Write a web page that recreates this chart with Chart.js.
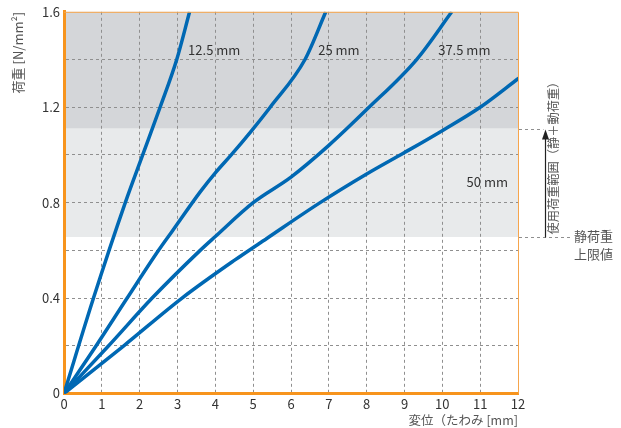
<!DOCTYPE html>
<html>
<head>
<meta charset="utf-8">
<script src="https://cdn.jsdelivr.net/npm/chart.js@4/dist/chart.umd.min.js"></script>
<style>
  html, body { margin: 0; padding: 0; background: #ffffff; }
  canvas { display: block; }
</style>
</head>
<body>
<canvas id="c" width="621" height="428"></canvas>
<script>
// ---- data ----
const seriesNames = ['12.5 mm', '25 mm', '37.5 mm', '50 mm'];

const x125 = [0, 0.78, 1.62, 2.08, 2.54, 2.98, 3.32];
const y125 = [0, 0.40, 0.80, 1.00, 1.20, 1.40, 1.60];

const x25 = [0, 0.85, 1.67, 2.50, 2.86, 3.60, 4.00, 4.42, 4.95, 5.45, 6.37, 6.92];
const y25 = [0, 0.20, 0.40, 0.60, 0.68, 0.845, 0.925, 1.00, 1.10, 1.20, 1.40, 1.60];

const x375 = [0, 1.18, 2.33, 3.60, 4.00, 5.00, 6.00, 7.00, 8.00, 9.32, 10.25];
const y375 = [0, 0.20, 0.40, 0.60, 0.658, 0.80, 0.907, 1.04, 1.19, 1.40, 1.60];

const x50 = [0, 1.58, 3.12, 4.52, 5.36, 6.77, 8.00, 9.00, 10.03, 11.00, 12.02];
const y50 = [0, 0.20, 0.40, 0.56, 0.65, 0.80, 0.92, 1.01, 1.105, 1.20, 1.322];

const xTickLabels = ['0','1','2','3','4','5','6','7','8','9','10','11','12'];
const yTickLabels = ['0','0.4','0.8','1.2','1.6'];

const staticLimit = 0.656;   // 静荷重上限値
const rangeTop = 1.11;       // 使用荷重範囲 upper bound

const xTitle = '変位（たわみ [mm]';
const yTitle = '荷重 [N/mm²]';
const rangeText = '使用荷重範囲（静＋動荷重）';
const limitText = ['静荷重', '上限値'];

// ---- build ----
const FONT = "'Noto Sans CJK JP', 'Noto Sans', sans-serif";
const BLUE = '#0068b3';
const ORANGE = '#f7941d';
const GRID = '#8f8f8f';

function pts(xs, ys) { return xs.map((x, i) => ({ x: x, y: ys[i] })); }
const seriesData = [pts(x125, y125), pts(x25, y25), pts(x375, y375), pts(x50, y50)];

const labelAnchors = [
  { x: 3.28, y: 1.44 },
  { x: 6.72, y: 1.44 },
  { x: 9.89, y: 1.44 },
  { x: 10.64, y: 0.885 }
];

const bandsPlugin = {
  id: 'bands',
  beforeDraw(chart) {
    const { ctx, chartArea: a, scales: { y } } = chart;
    ctx.save();
    const yTop = y.getPixelForValue(1.6), yR = y.getPixelForValue(rangeTop), yS = y.getPixelForValue(staticLimit);
    ctx.fillStyle = '#d4d6d9';
    ctx.fillRect(a.left, yTop, a.right - a.left, yR - yTop);
    ctx.fillStyle = '#e8eaeb';
    ctx.fillRect(a.left, yR, a.right - a.left, yS - yR);
    ctx.restore();
  }
};

const annotPlugin = {
  id: 'annot',
  afterDraw(chart) {
    const { ctx, chartArea: a, scales: { x, y } } = chart;
    ctx.save();
    // thin top/right border
    ctx.strokeStyle = '#f6a54c';
    ctx.lineWidth = 1;
    ctx.beginPath();
    ctx.moveTo(a.left, a.top + 0.5); ctx.lineTo(a.right + 0.5, a.top + 0.5);
    ctx.lineTo(a.right + 0.5, a.bottom);
    ctx.stroke();

    // series labels
    ctx.fillStyle = '#333333';
    ctx.font = "13px " + FONT;
    ctx.textBaseline = 'middle';
    ctx.textAlign = 'left';
    seriesNames.forEach((n, i) => {
      const p = labelAnchors[i];
      ctx.fillText(n, x.getPixelForValue(p.x), y.getPixelForValue(p.y));
    });

    // range annotation
    const yR = Math.round(y.getPixelForValue(rangeTop)) + 0.5;
    const yS = Math.round(y.getPixelForValue(staticLimit)) + 0.5;
    const ax = Math.round(a.right + 27) + 0.5;
    ctx.strokeStyle = GRID;
    ctx.lineWidth = 1;
    ctx.setLineDash([3, 3]);
    ctx.beginPath();
    ctx.moveTo(a.right + 1, yR); ctx.lineTo(ax - 2, yR);
    ctx.moveTo(a.right + 1, yS); ctx.lineTo(a.right + 54, yS);
    ctx.stroke();
    ctx.setLineDash([]);
    ctx.strokeStyle = '#222222';
    ctx.lineWidth = 1.2;
    ctx.beginPath();
    ctx.moveTo(ax, yS); ctx.lineTo(ax, yR + 8);
    ctx.stroke();
    ctx.fillStyle = '#222222';
    ctx.beginPath();
    ctx.moveTo(ax, yR); ctx.lineTo(ax - 3.5, yR + 10); ctx.lineTo(ax + 3.5, yR + 10); ctx.closePath();
    ctx.fill();

    // vertical text (reads bottom to top)
    ctx.save();
    ctx.font = "12px " + FONT;
    const w = ctx.measureText(rangeText).width;
    const fs = 12 * 159 / w;
    ctx.font = fs.toFixed(2) + "px " + FONT;
    ctx.translate(ax + 8, yS - 3);
    ctx.rotate(-Math.PI / 2);
    ctx.fillStyle = '#555555';
    ctx.textAlign = 'left';
    ctx.textBaseline = 'middle';
    ctx.fillText(rangeText, 0, 0);
    ctx.restore();

    // limit text
    ctx.fillStyle = '#555555';
    ctx.font = "13px " + FONT;
    ctx.textAlign = 'left';
    ctx.textBaseline = 'middle';
    ctx.fillText(limitText[0], a.right + 56, yS - 1);
    ctx.fillText(limitText[1], a.right + 56, yS + 17);
    ctx.restore();
  }
};

new Chart(document.getElementById('c'), {
  type: 'line',
  data: {
    datasets: seriesData.map((d, i) => ({
      label: seriesNames[i],
      data: d,
      borderColor: BLUE,
      borderWidth: 3.5,
      pointRadius: 0,
      fill: false,
      cubicInterpolationMode: 'monotone'
    }))
  },
  options: {
    responsive: false,
    animation: false,
    devicePixelRatio: 1,
    layout: { padding: { left: 0, right: 103, top: 9, bottom: 0 } },
    plugins: { legend: { display: false }, tooltip: { enabled: false } },
    scales: {
      x: {
        type: 'linear', min: 0, max: 12,
        ticks: {
          stepSize: 1, padding: 3, color: '#333333', autoSkip: false, maxRotation: 0,
          font: { family: FONT, size: 13 },
          callback: (v) => xTickLabels[Math.round(v)] ?? ''
        },
        grid: {
          drawTicks: false, lineWidth: 1,
          color: (c) => (c.tick && (c.tick.value === 0 || c.tick.value === 12)) ? 'rgba(0,0,0,0)' : GRID
        },
        border: { color: ORANGE, width: 3, dash: [3, 3] },
        title: {
          display: true, text: xTitle, align: 'end', color: '#555555',
          font: { family: FONT, size: 12.5, lineHeight: 1.2 }, padding: { top: 0, bottom: 0 }
        },
        afterFit: (s) => { s.height = 34.5; }
      },
      y: {
        type: 'linear', min: 0, max: 1.6,
        ticks: {
          stepSize: 0.2, padding: 4, color: '#333333', autoSkip: false,
          font: { family: FONT, size: 13 },
          callback: (v) => {
            const k = Math.round(v * 10);
            return (k % 4 === 0) ? yTickLabels[k / 4] : '';
          }
        },
        grid: {
          drawTicks: false, lineWidth: 1,
          color: (c) => (c.tick && (Math.abs(c.tick.value) < 1e-6 || Math.abs(c.tick.value - 1.6) < 1e-6)) ? 'rgba(0,0,0,0)' : GRID
        },
        border: { color: ORANGE, width: 3, dash: [3, 3] },
        title: {
          display: true, text: yTitle, align: 'end', color: '#555555',
          font: { family: FONT, size: 13, lineHeight: 1.2 }, padding: { top: 10, bottom: 0 }
        },
        afterFit: (s) => { s.width = 64; }
      }
    }
  },
  plugins: [bandsPlugin, annotPlugin]
});
</script>
</body>
</html>
